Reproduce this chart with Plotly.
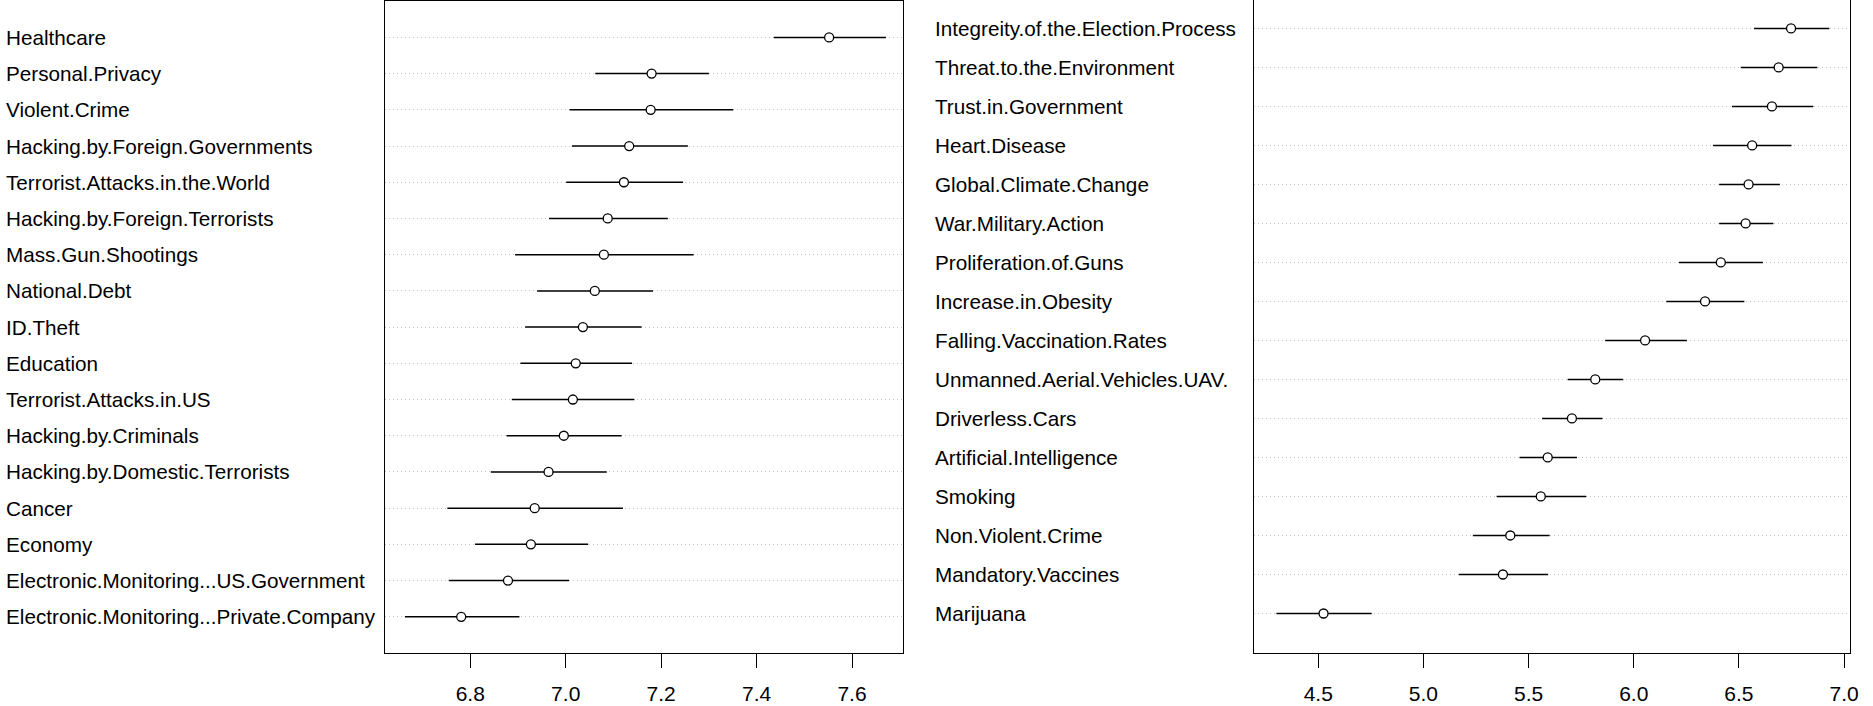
import plotly.graph_objects as go

# ---------------- Data (top-to-bottom order) ----------------
left_labels = [
    "Healthcare", "Personal.Privacy", "Violent.Crime", "Hacking.by.Foreign.Governments",
    "Terrorist.Attacks.in.the.World", "Hacking.by.Foreign.Terrorists", "Mass.Gun.Shootings",
    "National.Debt", "ID.Theft", "Education", "Terrorist.Attacks.in.US",
    "Hacking.by.Criminals", "Hacking.by.Domestic.Terrorists", "Cancer", "Economy",
    "Electronic.Monitoring...US.Government", "Electronic.Monitoring...Private.Company",
]
left_mean = [7.552, 7.180, 7.178, 7.133, 7.122, 7.088, 7.080, 7.061, 7.036, 7.021,
             7.015, 6.996, 6.964, 6.935, 6.927, 6.879, 6.781]
left_low = [7.436, 7.062, 7.008, 7.013, 7.001, 6.965, 6.894, 6.940, 6.915, 6.905,
            6.887, 6.876, 6.843, 6.752, 6.810, 6.755, 6.663]
left_high = [7.671, 7.300, 7.351, 7.256, 7.246, 7.214, 7.268, 7.183, 7.159, 7.139,
             7.144, 7.117, 7.086, 7.120, 7.047, 7.007, 6.903]
left_ticks = [6.8, 7.0, 7.2, 7.4, 7.6]

right_labels = [
    "Integreity.of.the.Election.Process", "Threat.to.the.Environment", "Trust.in.Government",
    "Heart.Disease", "Global.Climate.Change", "War.Military.Action", "Proliferation.of.Guns",
    "Increase.in.Obesity", "Falling.Vaccination.Rates", "Unmanned.Aerial.Vehicles.UAV.",
    "Driverless.Cars", "Artificial.Intelligence", "Smoking", "Non.Violent.Crime",
    "Mandatory.Vaccines", "Marijuana",
]
right_mean = [6.748, 6.689, 6.657, 6.563, 6.546, 6.532, 6.414, 6.339, 6.054, 5.817,
              5.706, 5.591, 5.558, 5.413, 5.378, 4.525]
right_low = [6.572, 6.509, 6.467, 6.377, 6.406, 6.406, 6.215, 6.155, 5.864, 5.686,
             5.564, 5.457, 5.348, 5.235, 5.168, 4.301]
right_high = [6.930, 6.873, 6.854, 6.750, 6.695, 6.664, 6.614, 6.526, 6.253, 5.950,
              5.851, 5.730, 5.774, 5.600, 5.593, 4.754]
right_ticks = [4.5, 5.0, 5.5, 6.0, 6.5, 7.0]

W, H = 1873, 706
FONT = "Liberation Sans, Arial, sans-serif"

fig = go.Figure()


def add_panel(labels, mean, low, high, xa, ya):
    n = len(labels)
    ys = [n - i for i in range(n)]
    fig.add_trace(go.Scatter(
        x=mean, y=ys, mode="markers", xaxis=xa, yaxis=ya, showlegend=False,
        marker=dict(symbol="circle", size=9, color="white",
                    line=dict(color="black", width=1.3)),
        error_x=dict(type="data", symmetric=False,
                     array=[h - m for h, m in zip(high, mean)],
                     arrayminus=[m - l for m, l in zip(mean, low)],
                     width=0, thickness=1.5, color="black"),
        hoverinfo="skip",
    ))
    return ys


ys_left = add_panel(left_labels, left_mean, left_low, left_high, "x", "y")
ys_right = add_panel(right_labels, right_mean, right_low, right_high, "x2", "y2")

for lab, yv in zip(left_labels, ys_left):
    fig.add_annotation(x=4 / W, xref="paper", y=yv, yref="y", text=lab,
                       showarrow=False, xanchor="left", yanchor="middle",
                       font=dict(family=FONT, size=20.7, color="black"))
for lab, yv in zip(right_labels, ys_right):
    fig.add_annotation(x=937 / W, xref="paper", y=yv, yref="y2", text=lab,
                       showarrow=False, xanchor="left", yanchor="middle",
                       font=dict(family=FONT, size=20.7, color="black"))

axis_common = dict(showline=True, linecolor="black", linewidth=1, zeroline=False)
grid_common = dict(showgrid=True, gridcolor="#c4c4c4", griddash="1px,3px", gridwidth=1)

fig.update_layout(
    width=W, height=H, margin=dict(l=0, r=0, t=0, b=0),
    paper_bgcolor="white", plot_bgcolor="white",
    font=dict(family=FONT, color="black"),
    xaxis=dict(domain=[386.7 / W, 907.3 / W], range=[6.6214, 7.7077],
               tickvals=left_ticks, ticktext=[f"{v:.1f}" for v in left_ticks],
               ticks="outside", ticklen=14, tickcolor="black", tickwidth=1,
               tickfont=dict(size=21, family=FONT, color="black"),
               ticklabelstandoff=8,
               showgrid=False, mirror=True, anchor="y", **axis_common),
    yaxis=dict(domain=[1 - 653 / H, 1 - 1.2 / H], range=[0, len(left_labels) + 1],
               tickvals=ys_left, showticklabels=False, ticks="",
               mirror=True, anchor="x", **grid_common, **axis_common),
    xaxis2=dict(domain=[1259.3 / W, 1858.3 / W], range=[4.194, 7.03],
                tickvals=right_ticks, ticktext=[f"{v:.1f}" for v in right_ticks],
                ticks="outside", ticklen=14, tickcolor="black", tickwidth=1,
                tickfont=dict(size=21, family=FONT, color="black"),
                ticklabelstandoff=8,
                showgrid=False, mirror=False, anchor="y2", **axis_common),
    yaxis2=dict(domain=[1 - 652.5 / H, 1.0], range=[0, 16.728],
                tickvals=ys_right, showticklabels=False, ticks="",
                mirror=True, anchor="x2", **grid_common, **axis_common),
)

fig.write_html("out.html")
